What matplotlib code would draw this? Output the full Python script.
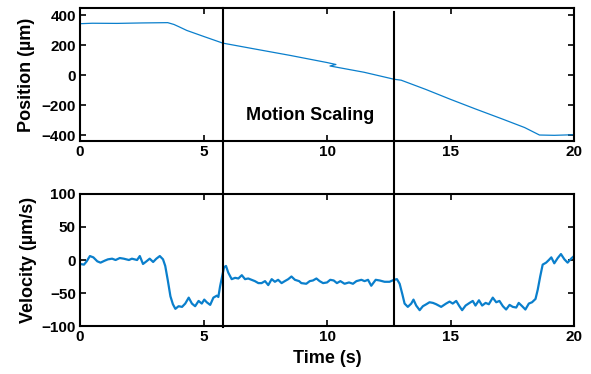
import matplotlib
matplotlib.use("Agg")
import matplotlib.pyplot as plt
from matplotlib.lines import Line2D
from matplotlib import transforms

plt.rcParams['font.family'] = ['Liberation Sans', 'DejaVu Sans']
plt.rcParams['font.weight'] = 'bold'

# Position trace (s, µm)
pos_t = [0.0, 0.5, 1.5, 2.5, 3.55, 3.8, 4.0, 4.32, 5.0, 5.78, 7.0, 8.5, 10.0, 10.36, 10.12, 11.5, 12.72, 13.0, 14.0, 14.98, 16.0, 17.1, 18.0, 18.6, 19.2, 20.0]
pos_v = [345, 348, 347, 350, 352, 340, 325, 300, 260, 215, 178, 133, 85, 72, 62, 20, -27, -33, -95, -160, -225, -293, -350, -400, -402, -398]

# Velocity trace (s, µm/s)
vel_t = [0.0, 0.16, 0.27, 0.4, 0.54, 0.7, 0.83, 1.0, 1.13, 1.3, 1.44, 1.61, 1.77, 1.98, 2.1, 2.31, 2.42, 2.55,
         2.69, 2.82, 2.96, 3.09, 3.23, 3.36, 3.45, 3.55, 3.66, 3.76, 3.86, 3.99, 4.13, 4.26, 4.4, 4.53, 4.66,
         4.8, 4.93, 5.03, 5.13, 5.27, 5.4, 5.54, 5.6, 5.67, 5.78, 5.83, 5.91, 6.0, 6.14, 6.28, 6.41, 6.55,
         6.68, 6.81, 6.95, 7.08, 7.22, 7.35, 7.49, 7.62, 7.76, 7.89, 8.02, 8.16, 8.29, 8.43, 8.56, 8.7,
         8.87, 8.96, 9.16, 9.3, 9.43, 9.57, 9.7, 9.84, 10.0, 10.13, 10.27, 10.4, 10.54, 10.71, 10.89, 11.05,
         11.19, 11.39, 11.52, 11.66, 11.79, 11.97, 12.13, 12.33, 12.53, 12.71, 12.83, 12.94, 13.05, 13.14,
         13.27, 13.41, 13.5, 13.61, 13.75, 13.88, 14.02, 14.15, 14.29, 14.42, 14.62, 14.82, 14.96, 15.09,
         15.23, 15.36, 15.47, 15.61, 15.77, 15.9, 16.01, 16.15, 16.28, 16.42, 16.55, 16.71, 16.85, 16.98,
         17.12, 17.25, 17.39, 17.52, 17.66, 17.76, 17.9, 18.03, 18.17, 18.3, 18.44, 18.53, 18.63, 18.73,
         18.87, 18.98, 19.08, 19.2, 19.34, 19.47, 19.61, 19.74, 19.88, 20.0]
vel_v = [-6, -7, -2, 6, 4, -2, -4, -1, 1, 2, 0, 3, 2, 0, 2, 0, 6, -6,
         -2, 2, -3, 2, 6, 1, -9, -30, -55, -67, -74, -70, -71, -66, -57, -66, -70,
         -62, -66, -60, -64, -68, -57, -54, -56, -40, -20, -11, -9, -19, -29, -27, -28, -23,
         -29, -28, -30, -32, -35, -35, -32, -38, -29, -33, -30, -35, -32, -29, -25, -30,
         -32, -35, -36, -32, -31, -28, -32, -35, -34, -30, -31, -35, -32, -36, -34, -36,
         -32, -30, -32, -30, -39, -30, -31, -33, -33, -30, -29, -36, -52, -66,
         -71, -66, -60, -69, -76, -70, -67, -64, -65, -67, -71, -66, -63, -66,
         -62, -70, -76, -69, -65, -62, -69, -61, -69, -65, -67, -57, -64, -62,
         -70, -75, -68, -71, -72, -65, -70, -75, -66, -64, -59, -45, -25, -7,
         -4, 0, 4, -5, 3, 9, 1, -4, 2, 6]

x_ticks = [0, 5, 10, 15, 20]
pos_ticks = [-400, -200, 0, 200, 400]
vel_ticks = [-100, -50, 0, 50, 100]
mode_lines = [5.78, 12.72]
label_text = "Motion Scaling"

color = '#0a7fcc'

fig = plt.figure(figsize=(5.91, 3.74), dpi=100)
ax1 = fig.add_axes([0.1354, 0.623, 0.8359, 0.3556])
ax2 = fig.add_axes([0.1354, 0.1283, 0.8359, 0.353])

ax1.plot(pos_t, pos_v, color=color, lw=0.9)
ax2.plot(vel_t, vel_v, color=color, lw=1.6)

ax1.set_xlim(0, 20)
ax1.set_ylim(-440, 450)
ax2.set_xlim(0, 20)
ax2.set_ylim(-100, 100)

for ax, yt in ((ax1, pos_ticks), (ax2, vel_ticks)):
    ax.set_xticks(x_ticks)
    ax.set_yticks(yt)
    ax.tick_params(direction='in', length=4, width=1.2, top=True, right=True,
                   labelsize=11, pad=3)
    for lab in ax.get_xticklabels() + ax.get_yticklabels():
        lab.set_fontweight('bold')
    for s in ax.spines.values():
        s.set_linewidth(1.5)

ax1.set_ylabel('Position (µm)', fontsize=13, fontweight='bold', labelpad=5)
ax2.set_ylabel('Velocity (µm/s)', fontsize=13, fontweight='bold', labelpad=3)
ax2.set_xlabel('Time (s)', fontsize=13, fontweight='bold', labelpad=4)

ax1.text(9.3, -267, label_text, ha='center', va='center', fontsize=13, fontweight='bold')

trans = transforms.blended_transform_factory(ax1.transData, fig.transFigure)
y_spans = [(0.9786, 0.126), (0.969, 0.134)]
for xv, (yt, yb) in zip(mode_lines, y_spans):
    fig.add_artist(Line2D([xv, xv], [yb, yt], transform=trans, color='black', lw=1.5))

fig.savefig('out.png', dpi=100)
